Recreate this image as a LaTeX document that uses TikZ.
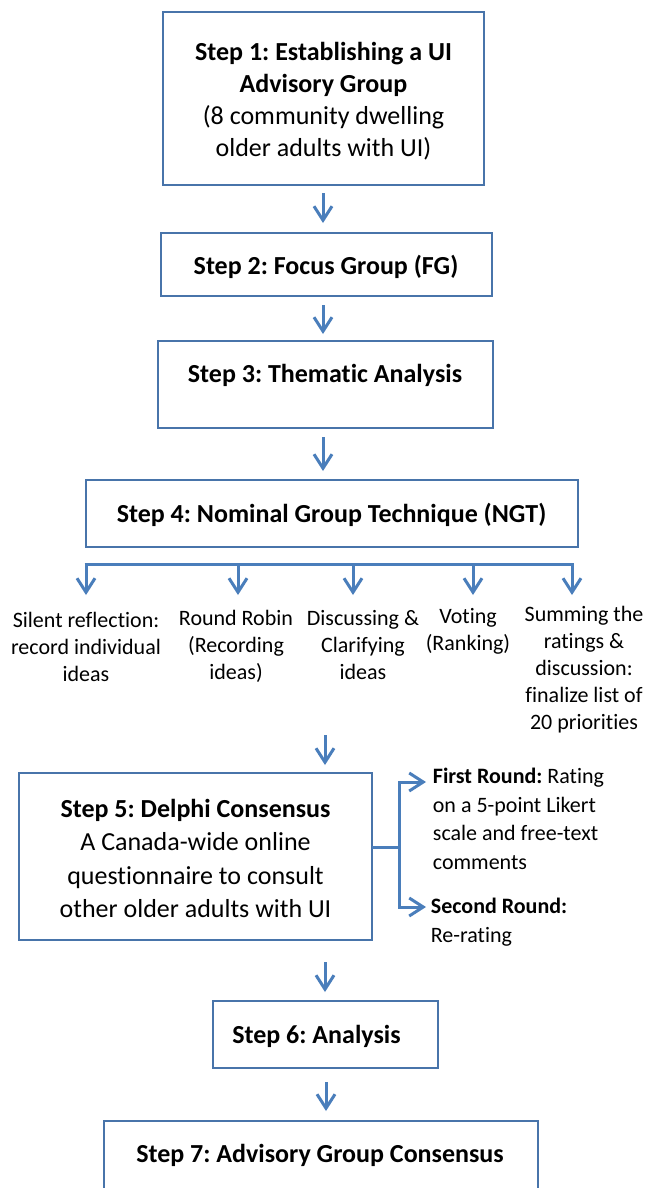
\documentclass[tikz,border=0pt]{standalone}
\usepackage{fontspec}
\setmainfont{Carlito}[Ligatures={NoCommon,TeX}]
\usetikzlibrary{arrows.meta}
\definecolor{arrblue}{RGB}{74,126,187}
\definecolor{boxblue}{RGB}{72,116,170}
\begin{document}
\frenchspacing
\begin{tikzpicture}[x=1pt,y=-1pt,
  box/.style={draw=boxblue, line width=2.4pt, fill=white, inner sep=0pt, outer sep=0pt},
  bigtxt/.style={font=\fontsize{26}{32}\selectfont, align=center, inner sep=0pt, anchor=north},
  bigbase/.style={font=\fontsize{26}{32}\selectfont\bfseries, inner sep=0pt, anchor=base},
  smtxt/.style={font=\fontsize{22}{27}\selectfont, align=center, inner sep=0pt, anchor=north},
  sidetxt/.style={font=\fontsize{22}{28.5}\selectfont, align=left, inner sep=0pt, anchor=north west},
  conn/.style={draw=arrblue, line width=3pt},
  arr/.style={conn, -{Straight Barb[length=14pt,width=18pt]}}]
\useasboundingbox (0,0) rectangle (656,1188);
\fill[white] (0,0) rectangle (656,1188);
\clip (0,0) rectangle (656,1188);

% boxes
\node[box, minimum width=321pt, minimum height=173pt] (b1) at (323.5,98.5) {};
\node[box, minimum width=331pt, minimum height=63pt]  (b2) at (326.5,264.5) {};
\node[box, minimum width=335pt, minimum height=87pt]  (b3) at (325.5,384.5) {};
\node[box, minimum width=492pt, minimum height=67pt]  (b4) at (332,513.5) {};
\node[box, minimum width=353pt, minimum height=167pt] (b5) at (195.5,856.5) {};
\node[box, minimum width=225pt, minimum height=67pt]  (b6) at (325.5,1034.5) {};
\node[box, minimum width=434pt, minimum height=110pt] (b7) at (321,1176) {};

% box texts
\node[bigtxt] (t1) at (323.5,37.6) {\strut\textbf{Step 1: Establishing a UI}\\\textbf{Advisory Group}\\(8 community dwelling\\older adults with UI)};
\node[bigbase] (t2) at (326,274) {Step 2: Focus Group (FG)};
\node[bigbase] (t3) at (325,382) {Step 3: Thematic Analysis};
\node[bigbase] (t4) at (331.5,522) {Step 4: Nominal Group Technique (NGT)};
\node[bigtxt, font=\fontsize{26}{33.5}\selectfont] (t5) at (195.5,793.5) {\strut\textbf{Step 5: Delphi Consensus}\\A Canada-wide online\\questionnaire to consult\\other older adults with UI};
\node[bigbase] (t6) at (316.5,1043) {Step 6: Analysis};
\node[bigbase] (t7) at (320,1162) {Step 7: Advisory Group Consensus};

% NGT sub-steps
\node[smtxt] (n1) at (86,608) {\strut Silent reflection:\\record individual\\ideas};
\node[smtxt] (n2) at (236,606) {\strut Round Robin\\(Recording\\ideas)};
\node[smtxt] (n3) at (363,606) {\strut Discussing \&\\Clarifying\\ideas};
\node[smtxt] (n4) at (468,604) {\strut Voting\\(Ranking)};
\node[smtxt, font=\fontsize{22}{26.8}\selectfont] (n5) at (584,603) {\strut Summing the\\ratings \&\\discussion:\\finalize list of\\20 priorities};

% Delphi rounds
\node[sidetxt] (r1) at (432.7,763.5) {\strut\textbf{First Round:} Rating\\on a 5-point Likert\\scale and free-text\\comments};
\node[sidetxt, font=\fontsize{22}{29.5}\selectfont] (r2) at (430.7,892.5) {\strut\textbf{Second Round:}\\Re-rating};

% main arrows
\coordinate (a1s) at (323,193);  \coordinate (a1e) at (323,223);
\coordinate (a2s) at (323,305);  \coordinate (a2e) at (323,334);
\coordinate (a3s) at (323,437);  \coordinate (a3e) at (323,471);
\coordinate (a4s) at (325,735);  \coordinate (a4e) at (325,765);
\coordinate (a5s) at (325,962);  \coordinate (a5e) at (325,992);
\coordinate (a6s) at (326,1082); \coordinate (a6e) at (326,1111);
\draw[arr] (a1s) -- (a1e);
\draw[arr] (a2s) -- (a2e);
\draw[arr] (a3s) -- (a3e);
\draw[arr] (a4s) -- (a4e);
\draw[arr] (a5s) -- (a5e);
\draw[arr] (a6s) -- (a6e);

% NGT branch
\coordinate (h1) at (86,564);
\coordinate (h2) at (238,564);
\coordinate (h3) at (353,564);
\coordinate (h4) at (473,564);
\coordinate (h5) at (572,564);
\draw[conn, line cap=butt] ([xshift=-1.5pt]h1) -- ([xshift=1.5pt]h5);
\draw[arr] (h1) -- (86,595);
\draw[arr] (h2) -- (238,595);
\draw[arr] (h3) -- (353,595);
\draw[arr] (h4) -- (473,595);
\draw[arr] (h5) -- (572,595);

% Delphi branch
\coordinate (dj) at (399,847);
\coordinate (fr) at (426,782);
\coordinate (sr) at (426,907);
\draw[conn] (b5.east |- dj) -- (dj);
\draw[arr] (dj) |- (fr);
\draw[arr] (dj) |- (sr);
\end{tikzpicture}
\end{document}
